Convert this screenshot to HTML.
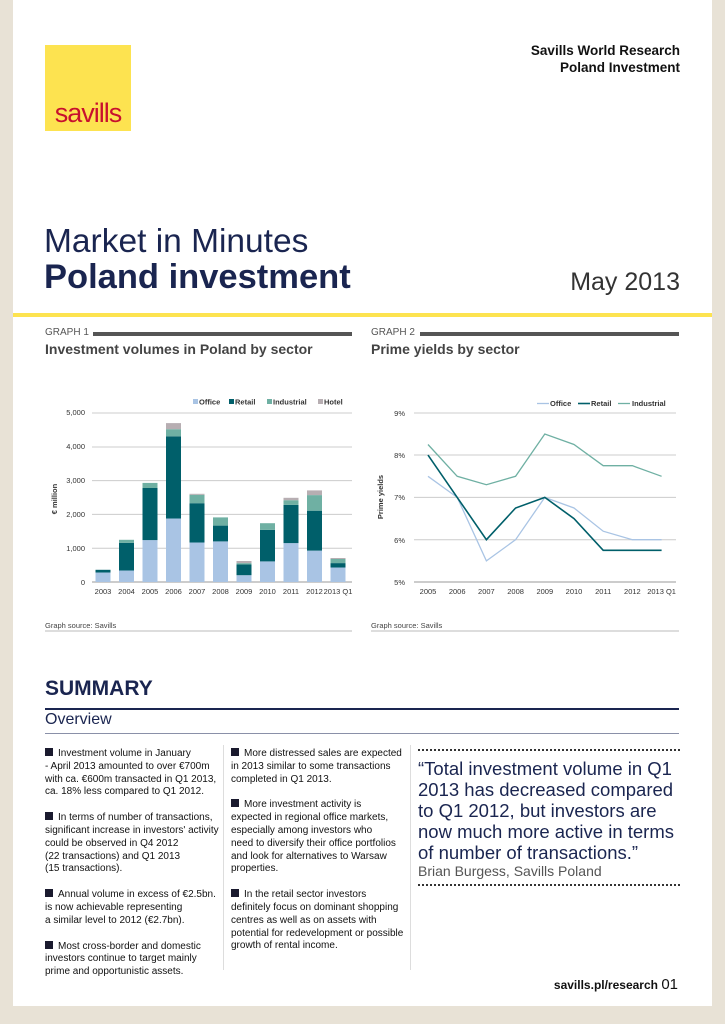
<!DOCTYPE html>
<html><head><meta charset="utf-8"><style>
*{margin:0;padding:0;box-sizing:border-box}
body{width:725px;height:1024px;background:#e8e2d6;font-family:"Liberation Sans",sans-serif;position:relative;overflow:hidden}
.page{position:absolute;left:13px;top:0;width:699px;height:1006px;background:#fff}
.a{position:absolute;white-space:nowrap}
.col p{font-size:10px;line-height:12.8px;color:#111;margin-bottom:13px}
.sq{display:inline-block;width:8px;height:8px;background:#1a1a2e;margin-right:5px}
</style></head><body>
<div class="page"></div>
<div class="a" style="left:45px;top:45px;width:86px;height:86px;background:#fde350"></div>
<div class="a" style="left:45px;top:98px;width:86px;text-align:center;color:#c8102e;font-size:27px;letter-spacing:-1px">savills</div>
<div class="a" style="right:45px;top:42px;text-align:right;font-weight:bold;font-size:13.5px;line-height:17px;color:#111">Savills World Research<br>Poland Investment</div>
<div class="a" style="left:44px;top:223px;font-size:33.5px;color:#1a2550">Market in Minutes</div>
<div class="a" style="left:44px;top:258px;font-size:34.5px;font-weight:bold;color:#1a2550">Poland investment</div>
<div class="a" style="right:45px;top:268px;font-size:25px;color:#333">May 2013</div>
<div class="a" style="left:13px;top:313px;width:699px;height:4px;background:#fde350"></div>
<div class="a" style="left:45px;top:327px;font-size:10px;color:#555">GRAPH 1</div>
<div class="a" style="left:93px;top:332px;width:259px;height:4px;background:#555"></div>
<div class="a" style="left:45px;top:341px;font-size:14px;font-weight:bold;color:#444">Investment volumes in Poland by sector</div>
<div class="a" style="left:371px;top:327px;font-size:10px;color:#555">GRAPH 2</div>
<div class="a" style="left:420px;top:332px;width:259px;height:4px;background:#555"></div>
<div class="a" style="left:371px;top:341px;font-size:14px;font-weight:bold;color:#444">Prime yields by sector</div>
<svg class="a" style="left:0;top:0" width="725" height="640" font-family="Liberation Sans, sans-serif" font-size="7.5" fill="#333">
<g stroke="#ccc" stroke-width="1"><line x1="92" y1="413" x2="352" y2="413"/><line x1="92" y1="447" x2="352" y2="447"/><line x1="92" y1="480.6" x2="352" y2="480.6"/><line x1="92" y1="514.4" x2="352" y2="514.4"/><line x1="92" y1="548.2" x2="352" y2="548.2"/></g>
<line x1="92" y1="582" x2="352" y2="582" stroke="#999"/>
<g text-anchor="end"><text x="85" y="415">5,000</text><text x="85" y="449">4,000</text><text x="85" y="483">3,000</text><text x="85" y="517">2,000</text><text x="85" y="551">1,000</text><text x="85" y="585">0</text></g>
<text transform="translate(57,499) rotate(-90)" text-anchor="middle" font-weight="bold">€ million</text>
<g text-anchor="middle"><text x="103" y="594">2003</text><text x="126.5" y="594">2004</text><text x="150" y="594">2005</text><text x="173.5" y="594">2006</text><text x="197" y="594">2007</text><text x="220.5" y="594">2008</text><text x="244" y="594">2009</text><text x="267.5" y="594">2010</text><text x="291" y="594">2011</text><text x="314.5" y="594">2012</text><text x="338" y="594">2013 Q1</text></g>
<g fill="#a9c4e4"><rect x="95.5" y="572.5" width="15" height="9.5"/><rect x="119" y="570.5" width="15" height="11.5"/><rect x="142.5" y="540.1" width="15" height="41.9"/><rect x="166" y="518.5" width="15" height="63.5"/><rect x="189.5" y="542.5" width="15" height="39.5"/><rect x="213" y="541.4" width="15" height="40.6"/><rect x="236.5" y="575.2" width="15" height="6.8"/><rect x="260" y="561.4" width="15" height="20.6"/><rect x="283.5" y="543.1" width="15" height="38.9"/><rect x="307" y="550.6" width="15" height="31.4"/><rect x="330.5" y="567.5" width="15" height="14.5"/></g>
<g fill="#005f6a"><rect x="95.5" y="569.8" width="15" height="2.7"/><rect x="119" y="542.8" width="15" height="27.7"/><rect x="142.5" y="488" width="15" height="52.1"/><rect x="166" y="436.3" width="15" height="82.2"/><rect x="189.5" y="503.2" width="15" height="39.3"/><rect x="213" y="525.6" width="15" height="15.8"/><rect x="236.5" y="564.4" width="15" height="10.8"/><rect x="260" y="529.9" width="15" height="31.5"/><rect x="283.5" y="504.9" width="15" height="38.2"/><rect x="307" y="510.7" width="15" height="39.9"/><rect x="330.5" y="563.1" width="15" height="4.4"/></g>
<g fill="#6fb0a3"><rect x="119" y="539.8" width="15" height="3"/><rect x="142.5" y="482.9" width="15" height="5.1"/><rect x="166" y="429.2" width="15" height="7.1"/><rect x="189.5" y="494.8" width="15" height="8.4"/><rect x="213" y="517.4" width="15" height="8.2"/><rect x="236.5" y="563.1" width="15" height="1.3"/><rect x="260" y="523.2" width="15" height="6.7"/><rect x="283.5" y="500.2" width="15" height="4.7"/><rect x="307" y="495.1" width="15" height="15.6"/><rect x="330.5" y="559" width="15" height="4.1"/></g>
<g fill="#b7aeb2"><rect x="166" y="423.1" width="15" height="6.1"/><rect x="189.5" y="493.8" width="15" height="1"/><rect x="236.5" y="561" width="15" height="2.1"/><rect x="283.5" y="497.8" width="15" height="2.4"/><rect x="307" y="490.4" width="15" height="4.7"/><rect x="330.5" y="558" width="15" height="1"/></g>
<g font-weight="bold" font-size="7.5"><rect x="193" y="399" width="5" height="5" fill="#a9c4e4"/><text x="199" y="404.5">Office</text><rect x="229" y="399" width="5" height="5" fill="#005f6a"/><text x="235" y="404.5">Retail</text><rect x="267" y="399" width="5" height="5" fill="#6fb0a3"/><text x="273" y="404.5">Industrial</text><rect x="318" y="399" width="5" height="5" fill="#b7aeb2"/><text x="324" y="404.5">Hotel</text></g>
<line x1="45" y1="631" x2="352" y2="631" stroke="#bbb"/>
<text x="45" y="628" font-size="7.5" fill="#444">Graph source: Savills</text>

<g stroke="#ccc"><line x1="414" y1="413" x2="676" y2="413"/><line x1="414" y1="455" x2="676" y2="455"/><line x1="414" y1="497.4" x2="676" y2="497.4"/><line x1="414" y1="539.7" x2="676" y2="539.7"/></g>
<line x1="414" y1="582" x2="676" y2="582" stroke="#999"/>
<g text-anchor="end"><text x="405" y="416">9%</text><text x="405" y="458">8%</text><text x="405" y="500">7%</text><text x="405" y="543">6%</text><text x="405" y="585">5%</text></g>
<text transform="translate(383,497) rotate(-90)" text-anchor="middle" font-weight="bold">Prime yields</text>
<g text-anchor="middle"><text x="428" y="594">2005</text><text x="457.2" y="594">2006</text><text x="486.4" y="594">2007</text><text x="515.6" y="594">2008</text><text x="544.8" y="594">2009</text><text x="574" y="594">2010</text><text x="603.2" y="594">2011</text><text x="632.4" y="594">2012</text><text x="661.6" y="594">2013 Q1</text></g>
<polyline fill="none" stroke="#a9c4e4" stroke-width="1.3" points="428,476.3 457.2,497.4 486.4,560.9 515.6,539.7 544.8,497.4 574,508 603.2,531.2 632.4,539.7 661.6,539.7"/>
<polyline fill="none" stroke="#005f6a" stroke-width="1.6" points="428,455.1 457.2,497.4 486.4,539.7 515.6,508 544.8,497.4 574,518.6 603.2,550.3 632.4,550.3 661.6,550.3"/>
<polyline fill="none" stroke="#6fb0a3" stroke-width="1.3" points="428,444.5 457.2,476.3 486.4,484.7 515.6,476.3 544.8,434 574,444.5 603.2,465.7 632.4,465.7 661.6,476.3"/>
<g font-weight="bold"><line x1="537" y1="403.5" x2="549" y2="403.5" stroke="#a9c4e4" stroke-width="1.3"/><text x="550" y="406">Office</text><line x1="578" y1="403.5" x2="590" y2="403.5" stroke="#005f6a" stroke-width="1.6"/><text x="591" y="406">Retail</text><line x1="618" y1="403.5" x2="630" y2="403.5" stroke="#6fb0a3" stroke-width="1.3"/><text x="632" y="406">Industrial</text></g>
<line x1="371" y1="631" x2="679" y2="631" stroke="#bbb"/>
<text x="371" y="628" font-size="7.5" fill="#444">Graph source: Savills</text>
</svg>
<div class="a" style="left:45px;top:677px;font-size:21px;font-weight:bold;color:#1a2550">SUMMARY</div>
<div class="a" style="left:45px;top:708px;width:634px;height:2px;background:#1a2550"></div>
<div class="a" style="left:45px;top:711px;font-size:16px;color:#1a2550">Overview</div>
<div class="a" style="left:45px;top:733px;width:634px;height:1px;background:#8a90a8"></div>
<div class="a" style="left:410px;top:745px;width:1px;height:225px;background:#ddd"></div>
<div class="a" style="left:223px;top:745px;width:1px;height:225px;background:#ddd"></div>
<div class="a col" style="left:45px;top:748px;width:180px">
<p><span class="sq"></span>Investment volume in January<br>- April 2013 amounted to over €700m<br>with ca. €600m transacted in Q1 2013,<br>ca. 18% less compared to Q1 2012.</p>
<p><span class="sq"></span>In terms of number of transactions,<br>significant increase in investors' activity<br>could be observed in Q4 2012<br>(22 transactions) and Q1 2013<br>(15 transactions).</p>
<p><span class="sq"></span>Annual volume in excess of €2.5bn.<br>is now achievable representing<br>a similar level to 2012 (€2.7bn).</p>
<p><span class="sq"></span>Most cross-border and domestic<br>investors continue to target mainly<br>prime and opportunistic assets.</p>
</div>
<div class="a col" style="left:231px;top:748px;width:178px">
<p><span class="sq"></span>More distressed sales are expected<br>in 2013 similar to some transactions<br>completed in Q1 2013.</p>
<p><span class="sq"></span>More investment activity is<br>expected in regional office markets,<br>especially among investors who<br>need to diversify their office portfolios<br>and look for alternatives to Warsaw<br>properties.</p>
<p><span class="sq"></span>In the retail sector investors<br>definitely focus on dominant shopping<br>centres as well as on assets with<br>potential for redevelopment or possible<br>growth of rental income.</p>
</div>
<div class="a" style="left:418px;top:749px;width:262px;border-top:2px dotted #333"></div>
<div class="a" style="left:418px;top:758px;font-size:18.5px;line-height:21px;color:#1a2550">“Total investment volume in Q1<br>2013 has decreased compared<br>to Q1 2012, but investors are<br>now much more active in terms<br>of number of transactions.”</div>
<div class="a" style="left:418px;top:863px;font-size:14px;color:#555">Brian Burgess, Savills Poland</div>
<div class="a" style="left:418px;top:884px;width:262px;border-top:2px dotted #333"></div>
<div class="a" style="right:47px;top:976px;font-size:12px;font-weight:bold;color:#111">savills.pl/research <span style="font-weight:normal;font-size:15px">01</span></div>
</body></html>
